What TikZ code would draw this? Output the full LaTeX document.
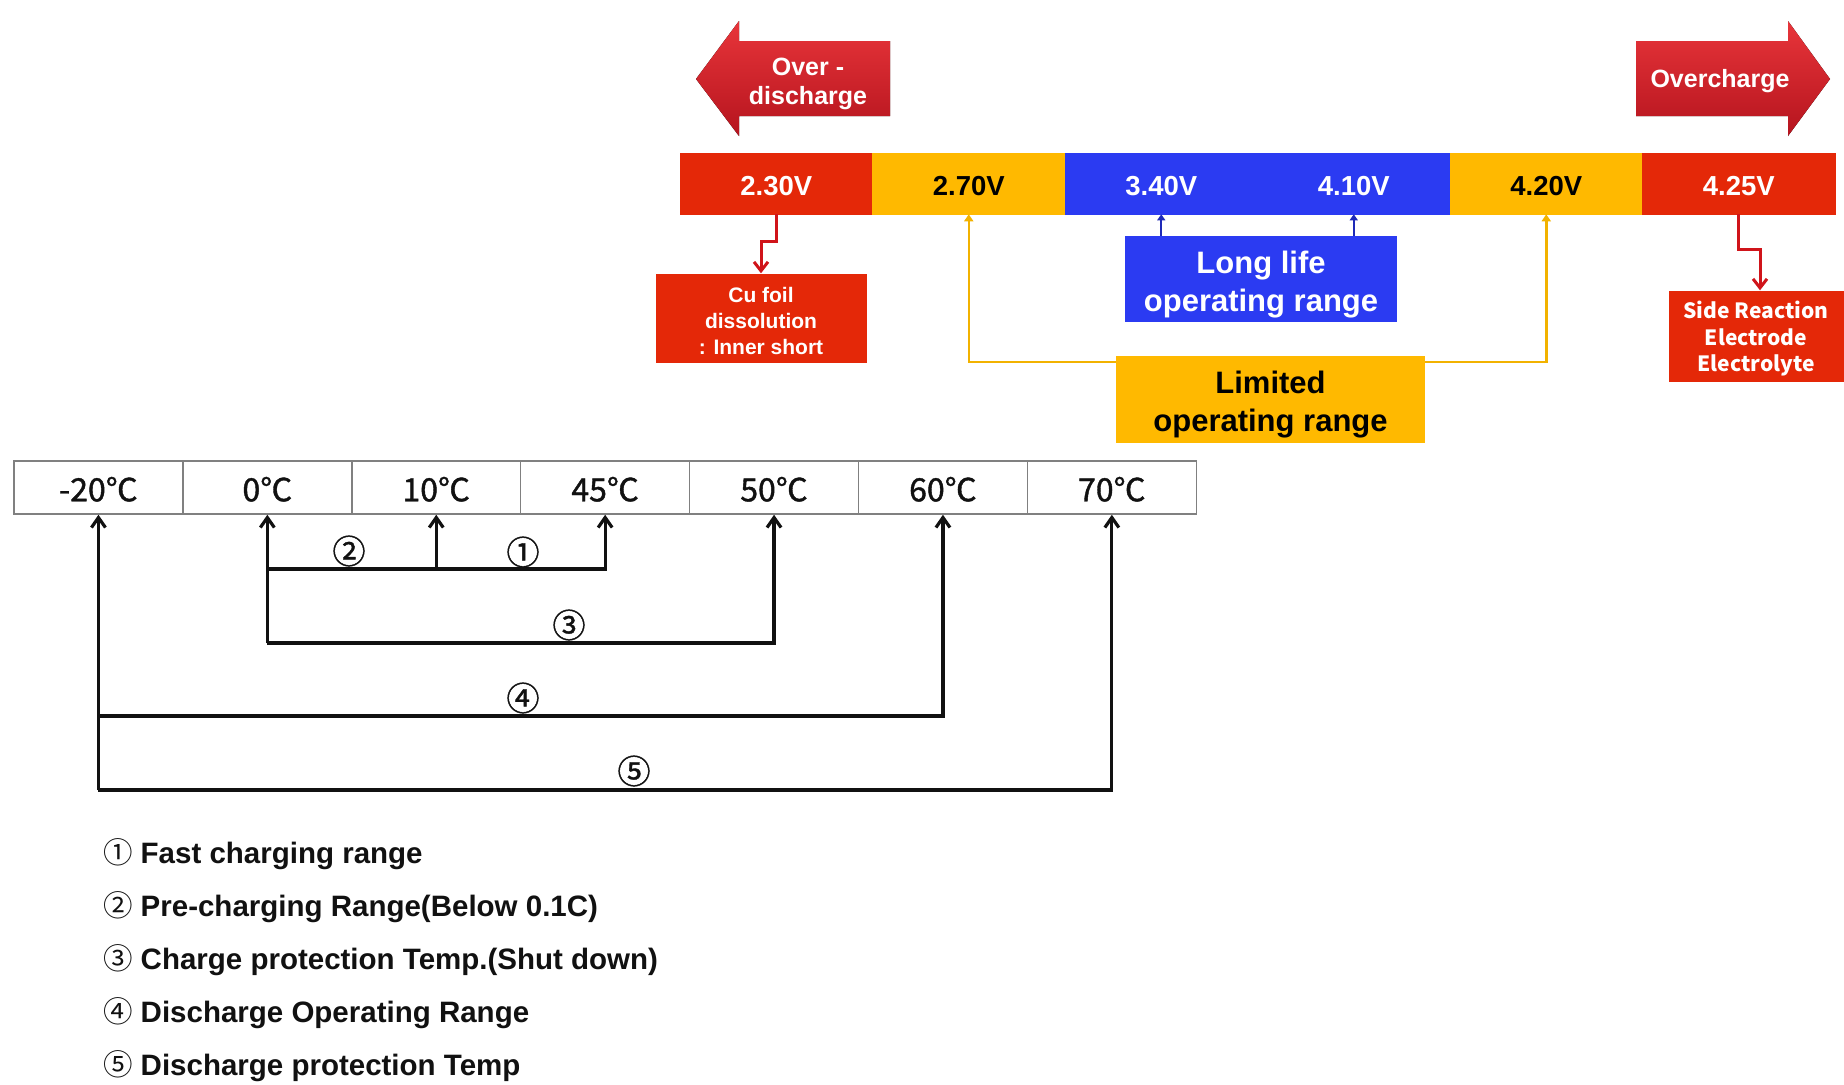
\documentclass[tikz,border=0pt]{standalone}
\usepackage{fontspec}
\setmainfont{Liberation Sans}
\newfontfamily\korfont{Noto Sans CJK KR}
\newfontfamily\korheavy[FakeBold=1.2]{Noto Sans CJK KR}
\usepackage{tikz}
\usetikzlibrary{arrows.meta,positioning,calc}
\definecolor{cellred}{HTML}{E42808}
\definecolor{cellamber}{HTML}{FFB900}
\definecolor{cellblue}{HTML}{2B3BF2}
\definecolor{arrowtop}{HTML}{E8353A}
\definecolor{arrowbot}{HTML}{B5141E}
\definecolor{linkred}{HTML}{D0141A}
\definecolor{linkblue}{HTML}{1E2AB8}
\definecolor{linkamber}{HTML}{F2B200}
\definecolor{gridgray}{HTML}{808080}
\definecolor{ink}{HTML}{111111}

\begin{document}
\begin{tikzpicture}[x=1pt,y=-1pt,
  % one unit = one pixel of the original slide, y runs downwards
  % the struts push the first line down a little, as on the slide
  vcell/.style={minimum width=192.5pt,minimum height=61pt,inner sep=0pt,
    line width=0.6pt,font=\fontsize{27.5}{30}\selectfont\bfseries,
    execute at begin node={\rule{0pt}{25pt}}},
  tcell/.style={draw=gridgray,line width=1.5pt,minimum width=168.9pt,
    minimum height=53pt,inner sep=0pt,text=ink,
    font=\korheavy\fontsize{32}{34}\selectfont,
    execute at begin node={\rule{0pt}{28pt}}},
  warn/.style={text=white,align=center,font=\fontsize{25}{29}\selectfont\bfseries},
  effect/.style={fill=cellred,text=white,align=center,inner sep=0pt,
    font=\fontsize{21}{26}\selectfont\bfseries},
  rangebox/.style={align=center,inner sep=0pt,
    font=\fontsize{31}{38}\selectfont\bfseries},
  circnum/.style={inner sep=0pt,text=ink,font=\korheavy\fontsize{33}{35}\selectfont},
  legend/.style={anchor=west,inner sep=0pt,text=ink,
    font=\fontsize{29.5}{34}\selectfont\bfseries},
  tarrow/.style={-{Straight Barb[length=10pt,width=14pt]},line width=3.2pt,draw=ink},
  redlink/.style={-{Straight Barb[length=9pt,width=14pt]},line width=3pt,draw=linkred},
  bluelink/.style={-{Triangle[length=6pt,width=8pt]},line width=2pt,draw=linkblue},
  amberlink/.style={-{Triangle[length=7pt,width=9pt]},line width=2.5pt,draw=linkamber}
]
  \useasboundingbox[fill=white] (0,0) rectangle (1844,1084);

  % block arrows
  \fill[top color=arrowtop,bottom color=arrowbot] (890,41) -- (739,41) -- (739,21)
    -- (696,79) -- (739,136) -- (739,116) -- (890,116) -- cycle;
  \fill[top color=arrowtop,bottom color=arrowbot] (1636,41) -- (1788,41) -- (1788,21)
    -- (1830,79) -- (1788,136) -- (1788,116) -- (1636,116) -- cycle;
  \node[warn] (odis) at (808,84) {Over -\\discharge};
  \node[warn] (ochg) at (1720,81) {Overcharge};

  % voltage bar
  \foreach \lab/\col/\txt [count=\i] in {2.30V/cellred/white,2.70V/cellamber/black,
      3.40V/cellblue/white,4.10V/cellblue/white,4.20V/cellamber/black,4.25V/cellred/white}
    \node[vcell,fill=\col,draw=\col,text=\txt] (v\i) at ({680+192.5*(\i-0.5)},183.5) {\lab};

  \node[effect,minimum width=211pt,minimum height=89pt] (cufoil) at (761,318)
    {\rule{0pt}{21.5pt}Cu foil\\dissolution\\: Inner short};
  \node[effect,minimum width=175pt,minimum height=91pt,font=\korfont\bfseries\fontsize{21}{26.5}\selectfont]
    (side) at (1756,336) {\rule{0pt}{23pt}Side Reaction\\Electrode\\Electrolyte};
  \node[rangebox,fill=cellblue,text=white,minimum width=272pt,minimum height=86pt]
    (life) at (1261,279) {\rule{0pt}{33pt}Long life\\operating range};
  \node[rangebox,fill=cellamber,text=black,minimum width=309pt,minimum height=87pt]
    (limit) at (1270.5,399.5) {\rule{0pt}{33pt}Limited\\operating range};

  \draw[redlink] (v1.south) -- ++(0,27) -| (cufoil.north);
  \draw[redlink] (v6.south) -- ++(0,35) -| ($(side.north)+(4,0)$);
  \draw[bluelink] (v3.south |- life.north) -- (v3.south);
  \draw[bluelink] (v4.south |- life.north) -- (v4.south);
  \draw[amberlink] ($(limit.north west)+(0,6)$) -| (v2.south);
  \draw[amberlink] ($(limit.north east)+(0,6)$) -| (v5.south);

  % temperature table
  \foreach \lab [count=\i] in {-20℃,0℃,10℃,45℃,50℃,60℃,70℃}
    \node[tcell] (t\i) at ({14+168.9*(\i-0.5)},487.5) {\lab};

  \coordinate (b1) at (0,569);
  \coordinate (b3) at (0,643);
  \coordinate (b4) at (0,716);
  \coordinate (b5) at (0,790);

  \draw[tarrow] (t1.south |- b5) -- (t1.south);
  \draw[tarrow] (t1.south |- b5) -- (t7.south |- b5) -- (t7.south);
  \draw[tarrow] (t1.south |- b4) -- (t6.south |- b4) -- (t6.south);
  \draw[tarrow] (t2.south |- b3) -- (t2.south);
  \draw[tarrow] (t2.south |- b3) -- (t5.south |- b3) -- (t5.south);
  \draw[tarrow] (t2.south |- b1) -- (t4.south |- b1) -- (t4.south);
  \draw[tarrow] (t3.south |- b1) -- (t3.south);

  \node[circnum] (n2) at (349,551) {②};
  \node[circnum] (n1) at (523,552) {①};
  \node[circnum] (n3) at (569,625) {③};
  \node[circnum] (n4) at (523,698) {④};
  \node[circnum] (n5) at (634,771) {⑤};

  % legend
  \foreach \num/\txt [count=\i] in {①/Fast charging range,
      ②/Pre-charging Range(Below 0.1C),
      ③/Charge protection Temp.(Shut down),
      ④/Discharge Operating Range,
      ⑤/Discharge protection Temp}
    \node[legend] (leg\i) at (103,{854+53*(\i-1)}) {{\korfont\mdseries\num}\hspace{8pt}\txt};
\end{tikzpicture}
\end{document}
